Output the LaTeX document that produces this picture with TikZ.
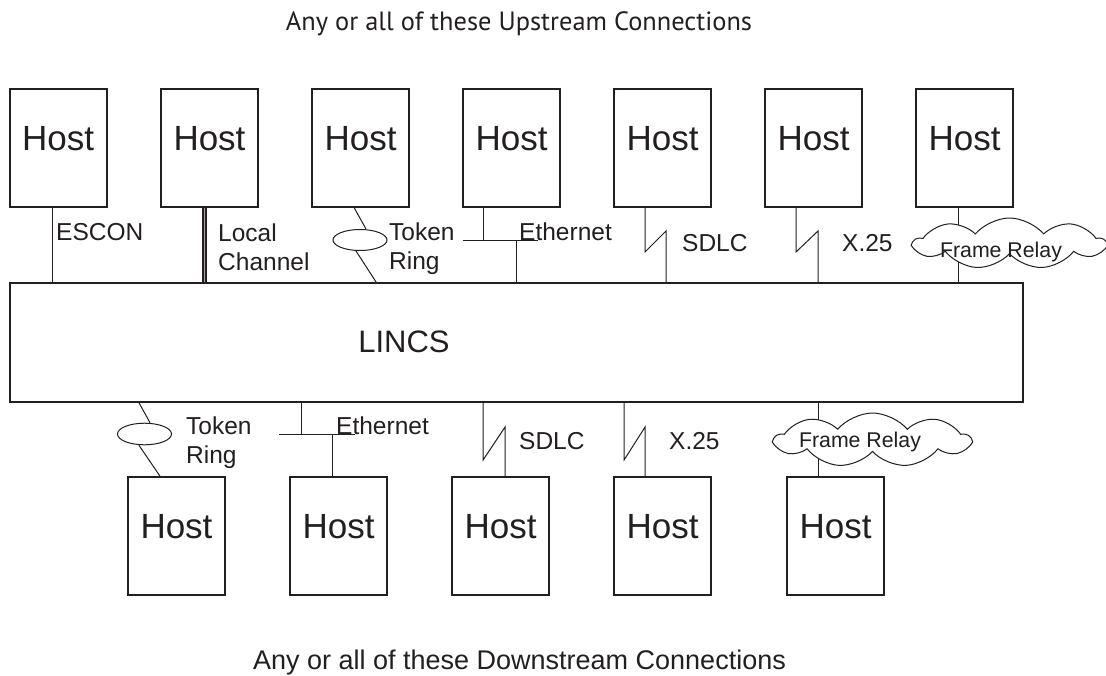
\documentclass[tikz,border=0pt]{standalone}
\usepackage{fontspec}
\setmainfont{Liberation Sans}
\newfontfamily\titlefont{PT Sans}
\usetikzlibrary{shapes.symbols,shapes.geometric}
\definecolor{ink}{HTML}{231F20}
\begin{document}
\begin{tikzpicture}[x=1pt,y=-1pt,
  hostbox/.style={draw=ink, line width=1.6pt, rectangle, minimum width=97pt, minimum height=118pt, inner sep=0pt},
  hosttext/.style={font=\fontsize{35}{40}\selectfont, text=ink, inner sep=0pt},
  lbl/.style={font=\fontsize{24.5}{29}\selectfont, text=ink, inner sep=0pt, anchor=base west, align=left},
  frtext/.style={font=\fontsize{21.3}{25}\selectfont, text=ink, inner sep=0pt, anchor=base},
  titletext/.style={font=\titlefont\fontsize{26.4}{32}\selectfont, text=ink, inner sep=0pt, anchor=base},
  wire/.style={draw=ink, line width=1pt},
  ring/.style={ellipse, draw=ink, line width=1pt, minimum width=54pt, minimum height=21pt, inner sep=0pt},
  cloudshape/.style={cloud, cloud puffs=9, cloud puff arc=100, aspect=3.7, draw=ink, fill=white, line width=1pt, inner sep=0pt},
  bigbox/.style={draw=ink, line width=1.6pt, rectangle, inner sep=0pt}
]
\useasboundingbox (0,0) rectangle (1106,675);
\fill[white] (0,0) rectangle (1106,675);

% titles
\node[titletext] (up) at (519,30) {Any or all of these Upstream Connections};
\node[lbl, anchor=base, font=\fontsize{27}{30}\selectfont] (down) at (519.5,669) {Any or all of these Downstream Connections};

% LINCS
\node[bigbox, minimum width=1013pt, minimum height=119pt] (L) at (516.5,342.5) {};
\node[font=\fontsize{31}{36}\selectfont, text=ink, inner sep=0pt] (Lt) at (404,342) {LINCS};

% top hosts
\foreach \i/\x in {1/58.2,2/209.5,3/360.5,4/511.5,5/662.5,6/813.5,7/964.5}{
  \node[hostbox] (t\i) at (\x,148) {};
  \node[hosttext] (t\i l) at ([yshift=9pt]t\i.center) {Host};
}
% bottom hosts
\foreach \i/\x in {1/176.5,2/338.5,3/500.5,4/662.5,5/835.5}{
  \node[hostbox] (b\i) at (\x,536) {};
  \node[hosttext] (b\i l) at ([yshift=9pt]b\i.center) {Host};
}

% ---- top connections ----
% ESCON
\draw[wire] ([xshift=43.3pt]t1.south west) -- ([xshift=43.3pt]t1.south west |- L.north);
\node[lbl] (escon) at (56,240) {ESCON};
% Local channel
\draw[ink, line width=4.6pt] ([xshift=44pt]t2.south west) -- ([xshift=44pt]t2.south west |- L.north);
\draw[gray!70, line width=1.4pt] ([xshift=44pt]t2.south west) -- ([xshift=44pt]t2.south west |- L.north);
\node[lbl] (lc) at (218,270) {Local\\Channel};
% Token ring
\node[ring] (r1) at (360,240) {};
\draw[wire] ([xshift=43pt]t3.south west) -- ([xshift=6pt]r1.north);
\draw[wire] ([xshift=-4pt]r1.south) -- ([xshift=65pt]t3.south west |- L.north);
\node[lbl] (tr1) at (389,269) {Token\\Ring};
% Ethernet
\coordinate (e1l) at (463,240);
\coordinate (e1r) at (538,240);
\draw[wire] (e1l) -- (e1r);
\draw[wire] ([xshift=21pt]t4.south west) -- ([xshift=21pt]t4.south west |- e1l);
\draw[wire] ([xshift=54pt]t4.south west |- e1l) -- ([xshift=54pt]t4.south west |- L.north);
\node[lbl] (eth1) at (519,240) {Ethernet};
% SDLC
\draw[wire] ([xshift=32pt]t5.south west) -- ++(0,44) -- ++(21,-21) -- ([xshift=53pt]t5.south west |- L.north);
\node[lbl] (sdlc1) at (682,251) {SDLC};
% X.25
\draw[wire] ([xshift=32pt]t6.south west) -- ++(0,44) -- ++(22,-21) -- ([xshift=54pt]t6.south west |- L.north);
\node[lbl] (x251) at (842,251) {X.25};
% Frame relay
\draw[wire] ([xshift=43pt]t7.south west) -- ([xshift=43pt]t7.south west |- L.north);
\node[cloudshape, minimum width=191pt, minimum height=51pt] (c1) at (1009.5,243.5) {};
\node[frtext] (fr1) at (1001,257.6) {Frame Relay};

% ---- bottom connections ----
% Token ring
\node[ring, minimum height=21.6pt] (r2) at (144.5,434) {};
\draw[wire] ([xshift=-5.5pt]r2.north |- L.south) -- ([xshift=5.5pt]r2.north);
\draw[wire] ([xshift=-5.5pt]r2.south) -- ([xshift=-16.5pt]b1.north);
\node[lbl] (tr2) at (186,463) {Token\\Ring};
% Ethernet
\coordinate (e2l) at (279,434);
\coordinate (e2r) at (355,434);
\draw[wire] (e2l) -- (e2r);
\draw[wire] (301,0 |- L.south) -- (301,0 |- e2l);
\draw[wire] ([xshift=43pt]b2.north west |- e2l) -- ([xshift=43pt]b2.north west);
\node[lbl] (eth2) at (336,434) {Ethernet};
% SDLC
\draw[wire] ([xshift=32pt]b3.north west |- L.south) -- ++(0,57) -- ++(22,-33) -- ([xshift=54pt]b3.north west);
\node[lbl] (sdlc2) at (519,449) {SDLC};
% X.25
\draw[wire] ([xshift=11pt]b4.north west |- L.south) -- ++(0,57) -- ++(21,-33) -- ([xshift=32pt]b4.north west);
\node[lbl] (x252) at (669,449) {X.25};
% Frame relay
\draw[wire] ([xshift=32pt]b5.north west |- L.south) -- ([xshift=32pt]b5.north west);
\node[cloudshape, minimum width=195pt, minimum height=54pt] (c2) at (872.5,440) {};
\node[frtext] (fr2) at (860,447.6) {Frame Relay};
\end{tikzpicture}
\end{document}
